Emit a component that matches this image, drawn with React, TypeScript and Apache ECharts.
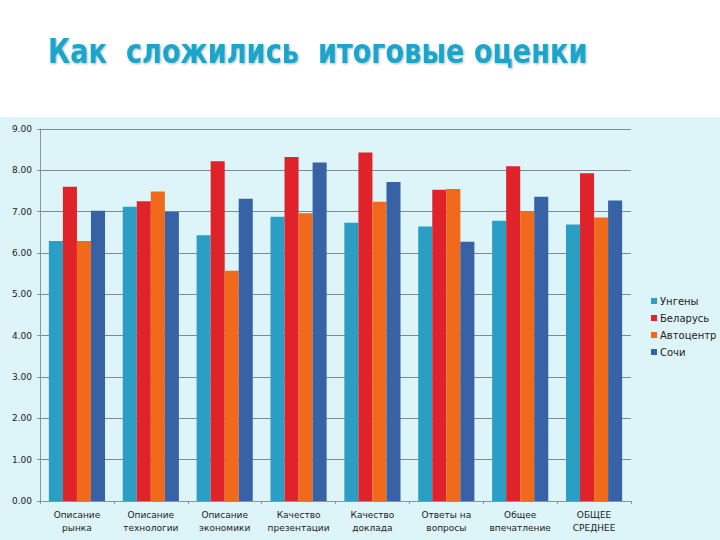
import { useEffect, useRef } from "react";
import * as echarts from "echarts";

const categories = [
  "Описание\nрынка",
  "Описание\nтехнологии",
  "Описание\nэкономики",
  "Качество\nпрезентации",
  "Качество\nдоклада",
  "Ответы на\nвопросы",
  "Общее\nвпечатление",
  "ОБЩЕЕ\nСРЕДНЕЕ",
];

const ungeny = [6.29, 7.12, 6.43, 6.88, 6.73, 6.64, 6.78, 6.69];
const belarus = [7.6, 7.25, 8.22, 8.32, 8.43, 7.53, 8.1, 7.93];
const avtocentr = [6.29, 7.49, 5.57, 6.96, 7.24, 7.55, 7.0, 6.86];
const sochi = [7.02, 6.99, 7.31, 8.19, 7.72, 6.27, 7.36, 7.27];

const seriesNames = ["Унгены", "Беларусь", "Автоцентр", "Сочи"];
const seriesColors = ["#2a9fc3", "#e0222a", "#f16a1c", "#3762a6"];

export default function App() {
  const ref = useRef<HTMLDivElement>(null);

  useEffect(() => {
    if (!ref.current) return;
    const chart = echarts.init(ref.current, null, { renderer: "svg" });
    const font = "'DejaVu Sans', Verdana, sans-serif";

    chart.setOption({
      animation: false,
      backgroundColor: "#ffffff",
      graphic: [
        {
          type: "rect",
          z: -10,
          shape: { x: 0, y: 117, width: 720, height: 423 },
          style: { fill: "#ddf4f9" },
        },
        {
          type: "text",
          x: 48,
          y: 51,
          scaleX: 0.8,
          style: {
            text: "Как  сложились  итоговые оценки",
            font: `bold 34px ${font}`,
            fill: "#1ba5ca",
            textVerticalAlign: "middle",
            textShadowColor: "rgba(0,60,90,0.35)",
            textShadowBlur: 2,
            textShadowOffsetX: 1,
            textShadowOffsetY: 1,
          },
        },
      ],
      legend: {
        orient: "vertical",
        left: 646,
        top: 291,
        itemWidth: 6,
        itemHeight: 6,
        itemGap: 7,
        icon: "rect",
        textStyle: { fontFamily: font, fontSize: 10, color: "#222", padding: [0, 0, 0, -2] },
        data: seriesNames,
      },
      grid: { left: 40, right: 89, top: 129, bottom: 39 },
      xAxis: {
        type: "category",
        data: categories,
        axisLine: { lineStyle: { color: "#8a9599" } },
        axisTick: { show: true, length: 3, lineStyle: { color: "#8a9599" } },
        axisLabel: {
          fontFamily: font,
          fontSize: 9,
          color: "#222",
          lineHeight: 13,
          margin: 7,
          interval: 0,
        },
      },
      yAxis: {
        type: "value",
        min: 0,
        max: 9,
        interval: 1,
        axisLine: { show: true, lineStyle: { color: "#8a9599" } },
        axisTick: { show: true, length: 3, lineStyle: { color: "#8a9599" } },
        axisLabel: {
          fontFamily: font,
          fontSize: 9,
          color: "#222",
          margin: 8,
          formatter: (v: number) => v.toFixed(2),
        },
        splitLine: { lineStyle: { color: "#7d8b90", width: 1 } },
      },
      series: [ungeny, belarus, avtocentr, sochi].map((d, i) => ({
        name: seriesNames[i],
        type: "bar",
        data: d,
        barGap: "0%",
        barCategoryGap: "24%",
        itemStyle: { color: seriesColors[i] },
      })),
    });

    return () => chart.dispose();
  }, []);

  return (
    <div
      ref={ref}
      style={{ position: "fixed", left: 0, top: 0, width: 720, height: 540 }}
    />
  );
}
